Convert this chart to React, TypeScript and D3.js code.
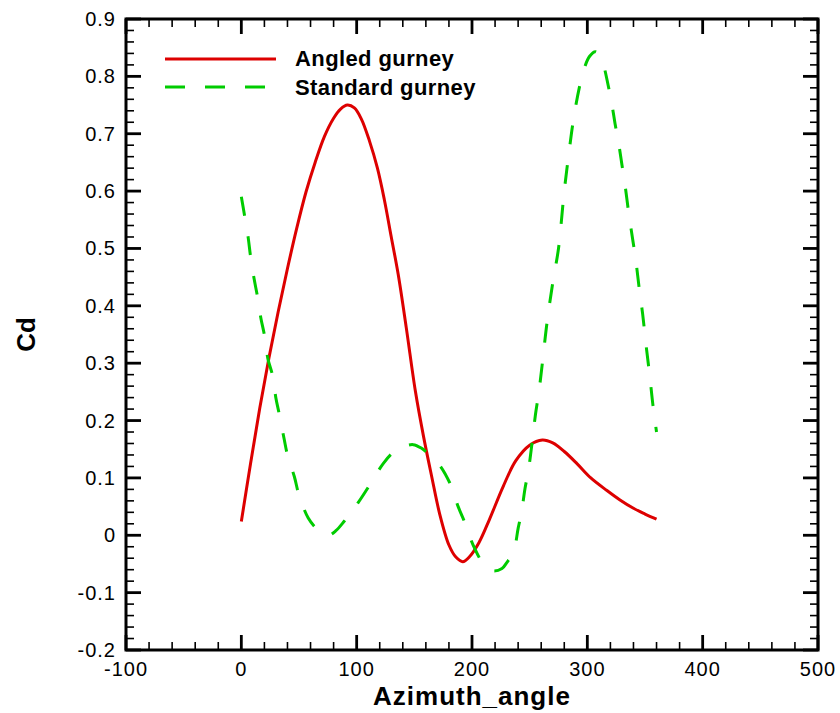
import React from "react";
import * as d3 from "d3";

const angledX = [0, 8, 16, 24, 32, 40, 48, 56, 64, 72, 80, 86, 92, 98, 104, 111, 118, 124, 130, 136, 143, 151, 158, 165, 172, 180, 186, 192, 198, 206, 215, 227, 238, 250, 261, 270, 280, 291, 303, 317, 328, 340, 350, 360];
const angledY = [0.024, 0.125, 0.222, 0.31, 0.39, 0.465, 0.535, 0.598, 0.65, 0.695, 0.727, 0.743, 0.75, 0.745, 0.726, 0.688, 0.64, 0.585, 0.52, 0.455, 0.362, 0.25, 0.172, 0.103, 0.037, -0.017, -0.038, -0.046, -0.037, -0.013, 0.027, 0.085, 0.13, 0.157, 0.166, 0.161, 0.146, 0.125, 0.1, 0.078, 0.062, 0.047, 0.037, 0.028];

const standardX = [0, 3, 6, 8, 11, 14, 17, 20, 23, 27, 30, 33, 37, 40, 46, 50, 58, 65, 71, 76, 82, 89, 101, 113, 123, 132, 140, 149, 156, 164, 172, 181, 188, 194, 201, 210, 218, 226, 230, 236, 240, 243, 246, 249, 252, 255, 258, 261, 265, 270, 275, 280, 284, 288, 293, 297, 302, 307, 311, 314, 318, 321, 324, 327, 330, 333, 336, 339, 342, 345, 348, 351, 354, 357, 360];
const standardY = [0.59, 0.555, 0.518, 0.486, 0.448, 0.416, 0.378, 0.349, 0.308, 0.279, 0.239, 0.21, 0.169, 0.14, 0.102, 0.07, 0.03, 0.012, 0.003, 0.0, 0.008, 0.024, 0.056, 0.093, 0.125, 0.145, 0.154, 0.158, 0.152, 0.138, 0.122, 0.09, 0.05, 0.021, -0.017, -0.05, -0.062, -0.058, -0.048, -0.029, 0.012, 0.041, 0.082, 0.114, 0.16, 0.21, 0.25, 0.3, 0.37, 0.44, 0.5, 0.6, 0.666, 0.725, 0.78, 0.812, 0.835, 0.843, 0.835, 0.82, 0.785, 0.755, 0.718, 0.685, 0.646, 0.606, 0.56, 0.52, 0.48, 0.43, 0.385, 0.33, 0.28, 0.225, 0.18];

const xTicks = [-100, 0, 100, 200, 300, 400, 500];
const yTicks = [-0.2, -0.1, 0, 0.1, 0.2, 0.3, 0.4, 0.5, 0.6, 0.7, 0.8, 0.9];
const seriesNames = ["Angled gurney", "Standard gurney"];
const xTitle = "Azimuth_angle";
const yTitle = "Cd";

const W = 840, H = 713;
const L = 126, R = 818, T = 19, B = 650;

function fmtY(v: number) {
  if (Math.abs(v) < 1e-9) return "0";
  return d3.format(".1f")(v).replace("\u2212", "-");
}

export default function App() {
  const x = d3.scaleLinear().domain([-100, 500]).range([L, R]);
  const y = d3.scaleLinear().domain([-0.2, 0.9]).range([B, T]);
  const line = d3.line<[number, number]>().x(d => x(d[0])).y(d => y(d[1])).curve(d3.curveCatmullRom.alpha(0.5));
  const aPts = angledX.map((v, i) => [v, angledY[i]] as [number, number]);
  const sPts = standardX.map((v, i) => [v, standardY[i]] as [number, number]);

  const xMinor = d3.range(-100, 500.001, 20).filter(v => !xTicks.some(t => Math.abs(t - v) < 1e-6));
  const yMinor = d3.range(-0.2, 0.9001, 0.02).filter(v => !yTicks.some(t => Math.abs(t - v) < 1e-6));
  const font = "'Liberation Sans', Arial, Helvetica, sans-serif";

  return (
    <svg width={W} height={H} style={{ position: "absolute", left: 0, top: 0, background: "#fff" }} fontFamily={font}>
      <rect x={0} y={0} width={W} height={H} fill="#fff" />
      <defs>
        <clipPath id="plot"><rect x={L} y={T} width={R - L} height={B - T} /></clipPath>
      </defs>
      {xMinor.map(v => (
        <g key={"xm" + v} stroke="#000" strokeWidth={1.6}>
          <line x1={x(v)} x2={x(v)} y1={B} y2={B - 8} />
          <line x1={x(v)} x2={x(v)} y1={T} y2={T + 8} />
        </g>
      ))}
      {yMinor.map(v => (
        <g key={"ym" + v} stroke="#000" strokeWidth={1.6}>
          <line x1={L} x2={L + 8} y1={y(v)} y2={y(v)} />
          <line x1={R} x2={R - 8} y1={y(v)} y2={y(v)} />
        </g>
      ))}
      {xTicks.map(v => (
        <g key={"x" + v}>
          <line x1={x(v)} x2={x(v)} y1={B} y2={B - 15} stroke="#000" strokeWidth={2.8} />
          <line x1={x(v)} x2={x(v)} y1={T} y2={T + 15} stroke="#000" strokeWidth={2.8} />
          <text x={x(v)} y={676} textAnchor="middle" fontSize={20} letterSpacing={1} fill="#000">{v}</text>
        </g>
      ))}
      {yTicks.map(v => (
        <g key={"y" + v}>
          <line x1={L} x2={L + 15} y1={y(v)} y2={y(v)} stroke="#000" strokeWidth={2.8} />
          <line x1={R} x2={R - 15} y1={y(v)} y2={y(v)} stroke="#000" strokeWidth={2.8} />
          <text x={116} y={y(v) + 7} textAnchor="end" fontSize={20} letterSpacing={1} fill="#000">{fmtY(v)}</text>
        </g>
      ))}
      <rect x={L} y={T} width={R - L} height={B - T} fill="none" stroke="#000" strokeWidth={3} />
      <g clipPath="url(#plot)">
        <path d={line(aPts) || ""} fill="none" stroke="#dd0000" strokeWidth={3} />
        <path d={line(sPts) || ""} fill="none" stroke="#00cc00" strokeWidth={3} strokeDasharray="19 21" />
      </g>
      <line x1={165} x2={276} y1={59} y2={59} stroke="#dd0000" strokeWidth={3} />
      <line x1={165} x2={276} y1={87} y2={87} stroke="#00cc00" strokeWidth={3} strokeDasharray="20 20" />
      <text x={295} y={66} fontSize={22} fontWeight="bold" letterSpacing={0.4} fill="#000">{seriesNames[0]}</text>
      <text x={295} y={95} fontSize={22} fontWeight="bold" letterSpacing={0.4} fill="#000">{seriesNames[1]}</text>
      <text x={(L + R) / 2} y={705} textAnchor="middle" fontSize={26} fontWeight="bold" letterSpacing={1} fill="#000">{xTitle}</text>
      <text transform={`translate(35, ${(T + B) / 2}) rotate(-90)`} textAnchor="middle" fontSize={26} fontWeight="bold" fill="#000">{yTitle}</text>
    </svg>
  );
}
